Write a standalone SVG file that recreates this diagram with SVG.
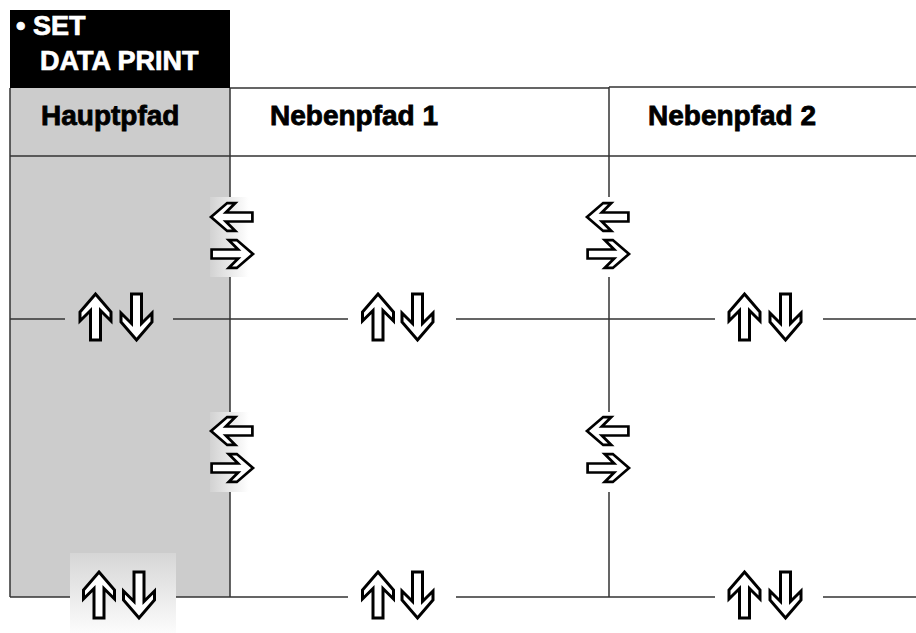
<svg xmlns="http://www.w3.org/2000/svg" width="916" height="633" viewBox="0 0 916 633">
<style>
.ln{stroke:#333;stroke-width:1.5;fill:none}
.hd{font-family:"Liberation Sans",Arial,sans-serif;font-weight:bold;font-size:28px;fill:#000;stroke:#000;stroke-width:0.8}
.wt{font-family:"Liberation Sans",Arial,sans-serif;font-weight:bold;font-size:27px;fill:#fff;stroke:#fff;stroke-width:0.7}
.ar{fill:#fff;stroke:#000;stroke-width:3;stroke-linejoin:miter}
</style>
<defs>
<path id="up" d="M0,0 L15.5,18 L15.5,27 L5,16.5 L5,46 L-5,46 L-5,16.5 L-15.5,27 L-15.5,18 Z"/>
<linearGradient id="gh" x1="0" y1="0" x2="1" y2="0">
<stop offset="0" stop-color="#d2d2d2"/><stop offset="0.9" stop-color="#fff"/>
</linearGradient>
<linearGradient id="gv" x1="0" y1="0" x2="0" y2="1">
<stop offset="0" stop-color="#d6d6d6"/><stop offset="1" stop-color="#fcfcfc"/>
</linearGradient>
</defs>
<rect width="916" height="633" fill="#fff"/>
<g id="title">
<rect x="10" y="10" width="220" height="78" fill="#000"/>
<text class="wt" x="16" y="35">• SET</text>
<text class="wt" x="40" y="70">DATA PRINT</text>
</g>
<g id="hauptpfad">
<rect x="10" y="88" width="220" height="509" fill="#cccccc"/>
<text class="hd" x="41" y="125">Hauptpfad</text>
</g>
<g id="nebenpfad1">
<text class="hd" x="270" y="125">Nebenpfad 1</text>
</g>
<g id="nebenpfad2">
<text class="hd" x="648" y="125">Nebenpfad 2</text>
</g>
<g id="connectors">
<path class="ln" d="M10,88 V597 M230,88 H609 M609,87 H916 M230,88 V597 M609,87 V597 M10,156 H916"/>
<path class="ln" d="M10,319 H65 M173,319 H348 M456,319 H715 M823,319 H916"/>
<path class="ln" d="M10,597 H348 M456,597 H715 M823,597 H916"/>
</g>
<g id="switch-a1">
<rect x="210" y="197" width="43" height="80" fill="url(#gh)"/>
<use href="#up" class="ar" transform="translate(211,217) scale(0.9) rotate(-90)"/>
<use href="#up" class="ar" transform="translate(253,254) scale(0.9) rotate(90)"/>
</g>
<g id="switch-a2">
<rect x="210" y="412" width="43" height="80" fill="url(#gh)"/>
<use href="#up" class="ar" transform="translate(211,431) scale(0.9) rotate(-90)"/>
<use href="#up" class="ar" transform="translate(253,468) scale(0.9) rotate(90)"/>
</g>
<g id="switch-b1">
<rect x="586" y="197" width="44" height="80" fill="#fff"/>
<use href="#up" class="ar" transform="translate(587,217) scale(0.9) rotate(-90)"/>
<use href="#up" class="ar" transform="translate(629,254) scale(0.9) rotate(90)"/>
</g>
<g id="switch-b2">
<rect x="586" y="412" width="44" height="80" fill="#fff"/>
<use href="#up" class="ar" transform="translate(587,431) scale(0.9) rotate(-90)"/>
<use href="#up" class="ar" transform="translate(629,468) scale(0.9) rotate(90)"/>
</g>
<g id="updown-1-1">
<use href="#up" class="ar" transform="translate(95.5,294)"/>
<use href="#up" class="ar" transform="translate(136.5,340) scale(1,-1)"/>
</g>
<g id="updown-2-1">
<use href="#up" class="ar" transform="translate(378,294)"/>
<use href="#up" class="ar" transform="translate(417.5,340) scale(1,-1)"/>
</g>
<g id="updown-3-1">
<use href="#up" class="ar" transform="translate(744.5,294)"/>
<use href="#up" class="ar" transform="translate(785.5,340) scale(1,-1)"/>
</g>
<g id="updown-1-2">
<rect x="70" y="553" width="106" height="80" fill="url(#gv)"/>
<use href="#up" class="ar" transform="translate(99,572)"/>
<use href="#up" class="ar" transform="translate(139,618) scale(1,-1)"/>
</g>
<g id="updown-2-2">
<use href="#up" class="ar" transform="translate(378,572)"/>
<use href="#up" class="ar" transform="translate(417.5,618) scale(1,-1)"/>
</g>
<g id="updown-3-2">
<use href="#up" class="ar" transform="translate(744.5,572)"/>
<use href="#up" class="ar" transform="translate(785.5,618) scale(1,-1)"/>
</g>
</svg>
